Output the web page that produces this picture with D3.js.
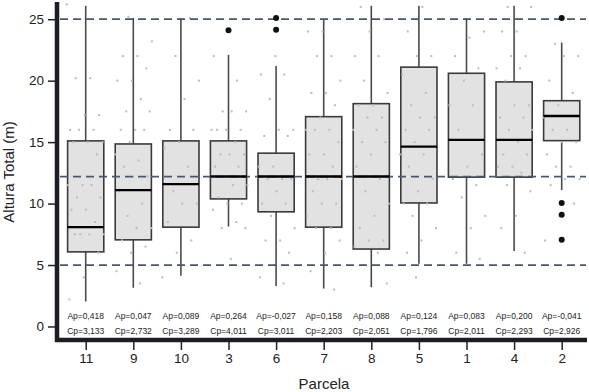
<!DOCTYPE html>
<html><head><meta charset="utf-8">
<script src="https://cdn.jsdelivr.net/npm/d3@7"></script>
<style>body{margin:0;background:#fff}svg{display:block;font-family:"Liberation Sans",Arial,sans-serif}</style>
</head><body><svg id="c" width="589" height="392"></svg>
<script>
const categories = ["11","9","10","3","6","7","8","5","1","4","2"];
const q1      = [6.07, 7.05, 8.08, 10.38, 9.33, 8.08, 6.3, 10.05, 12.15, 12.15, 15.12];
const medians = [8.08, 11.09, 11.58, 12.2, 12.2, 12.2, 12.2, 14.63, 15.18, 15.18, 17.13];
const q3      = [15.1, 14.85, 15.1, 15.1, 14.1, 17.07, 18.13, 21.1, 20.6, 19.9, 18.37];
const whiskLo = [2.03, 3.15, 4.12, 8.13, 3.3, 3.1, 3.2, 5.1, 5.1, 6.15, 11.1];
const whiskHi = [26.1, 25.1, 25.1, 22.1, 21.2, 25.0, 26.1, 26.1, 25.1, 26.1, 23.1];
const outliers = [[], [], [], [24.1], [25.1, 24.15], [], [], [], [], [], [25.1, 10.05, 9.1, 7.05]];
const points = [
  [26.2,20.2,20.2,17.2,17.2,16,16,16,15,15,15,14,11.5,11.5,11.5,10.5,10.5,9.5,9.5,8.5,7.5,7.5,7.5,7.5,6,4,2.2],
  [25.2,23.2,22,22,21,20,20,18.5,17.5,17.5,16,16,16,15,14,13.5,13,12.2,12.2,11,10,9,8,8,7,6.5,6,4.5,3.5],
  [25.1,22,20,18.5,16,16,15,14.5,13,11,10,10,8.5,7,6,4],
  [22,20,17.5,17.5,17.5,16,16,16,16,15,14,14,14,13,13,12.2,11.5,11.5,10.5,10,10,9.5,8.5,8,8,5.5],
  [22,20.5,20.5,18.5,16,16,15.5,15.5,13,13,12,12,12,11,10,10,9,8,7,7,6,5,4,3.5],
  [25,24,24,22,22,20,19,19,18,17,16,16,16,15,14,14,13,12,12,12,11,10,10,9,8,8,7,6,4.5,3],
  [26,25,24,22,22,20,19,18,18,17,17,16,16,15,15,14,13,12,11,10,9,8,7,7,6.5,6,5,3.5],
  [26,24,22,22,20.5,19,18,17,17,16,16,15,14,14,13,12,11,10,10,9,8,7,6,5,4],
  [24,23.5,22,21,20,18,18,16,14,13,12,11.5,10.5,9,8,6,5.5],
  [26,26,24,24,22,22,21,21,20,18,18,17,17,16,16,15,14,14,13,13,12.5,11.5,11,9,8,6],
  [25,23,22,22,20,19,18,17,16,16,15,15,14,13,13,12,12,11.5,10,9,7]
];
const apLabels = ["Ap=0,418","Ap=0,047","Ap=0,089","Ap=0,264","Ap=-0,027","Ap=0,158","Ap=0,088","Ap=0,124","Ap=0,083","Ap=0,200","Ap=-0,041"];
const cpLabels = ["Cp=3,133","Cp=2,732","Cp=3,289","Cp=4,011","Cp=3,011","Cp=2,203","Cp=2,051","Cp=1,796","Cp=2,011","Cp=2,293","Cp=2,926"];
const refLines = [25, 12.2, 5];
const yTicks = [0, 5, 10, 15, 20, 25];

const svg = d3.select("#c");
const x = d3.scalePoint().domain(categories).range([85.7, 561.7]);
const step = x.step();
const boxW = step * 0.76;
const y = d3.scaleLinear().domain([-1.1, 26.4]).range([340, 2]);

const g = svg.append("g");
categories.forEach((c, i) => {
  const cx = x(c);
  g.append("line").attr("x1", cx).attr("x2", cx).attr("y1", y(whiskLo[i])).attr("y2", y(whiskHi[i]))
    .attr("stroke", "#4a4a4a").attr("stroke-width", 1.6);
  g.append("rect").attr("x", cx - boxW/2).attr("width", boxW)
    .attr("y", y(q3[i])).attr("height", y(q1[i]) - y(q3[i]))
    .attr("fill", "#e2e2e2").attr("stroke", "#3a3a3a").attr("stroke-width", 1.6);
});
// jittered points
categories.forEach((c, i) => {
  points[i].forEach((v, j) => {
    const off = (((j * 0.6180339 + i * 0.37) % 1) - 0.5) * boxW * 1.05;
    g.append("rect").attr("x", x(c) + off - 1).attr("y", y(v) - 1).attr("width", 2).attr("height", 2)
      .attr("fill", "#bcbcbc");
  });
});
// reference lines
refLines.forEach(v => {
  g.append("line").attr("x1", 60).attr("x2", 586).attr("y1", y(v)).attr("y2", y(v))
    .attr("stroke", "#47586f").attr("stroke-width", 1.8).attr("stroke-dasharray", "8,5");
});
// medians + outliers + annotations
categories.forEach((c, i) => {
  const cx = x(c);
  g.append("line").attr("x1", cx - boxW/2).attr("x2", cx + boxW/2).attr("y1", y(medians[i])).attr("y2", y(medians[i]))
    .attr("stroke", "#000").attr("stroke-width", 2.4);
  outliers[i].forEach(v => {
    g.append("circle").attr("cx", cx).attr("cy", y(v)).attr("r", 3).attr("fill", "#111");
  });
  g.append("text").attr("x", cx).attr("y", y(0) - 7).attr("text-anchor", "middle")
    .attr("font-size", 8.5).attr("fill", "#222").text(apLabels[i]);
  g.append("text").attr("x", cx).attr("y", y(0) + 8).attr("text-anchor", "middle")
    .attr("font-size", 8.5).attr("fill", "#222").text(cpLabels[i]);
});

// axes
const yAxis = d3.axisLeft(y).tickValues(yTicks).tickSize(7).tickPadding(4);
const ya = svg.append("g").attr("transform", "translate(55,0)").call(yAxis);
ya.select(".domain").remove();
ya.selectAll("line").attr("stroke", "#222").attr("stroke-width", 1.5);
ya.selectAll("text").attr("font-size", 13.5).attr("fill", "#222").attr("font-family", "Liberation Sans, Arial, sans-serif");

const xAxis = d3.axisBottom(x).tickSize(9).tickPadding(3);
const xa = svg.append("g").attr("transform", "translate(0,341)").call(xAxis);
xa.select(".domain").remove();
xa.selectAll("line").attr("stroke", "#222").attr("stroke-width", 1.5);
xa.selectAll("text").attr("font-size", 13.5).attr("fill", "#222").attr("font-family", "Liberation Sans, Arial, sans-serif");

svg.append("path").attr("d", `M57,2 L57,340 L587,340`).attr("fill", "none")
  .attr("stroke", "#1b1f24").attr("stroke-width", 4.5);

svg.append("text").attr("x", 324).attr("y", 389).attr("text-anchor", "middle")
  .attr("font-size", 15).attr("fill", "#222").text("Parcela");
svg.append("text").attr("transform", "translate(14,172) rotate(-90)").attr("text-anchor", "middle")
  .attr("font-size", 15).attr("fill", "#222").text("Altura Total (m)");
</script></body></html>
